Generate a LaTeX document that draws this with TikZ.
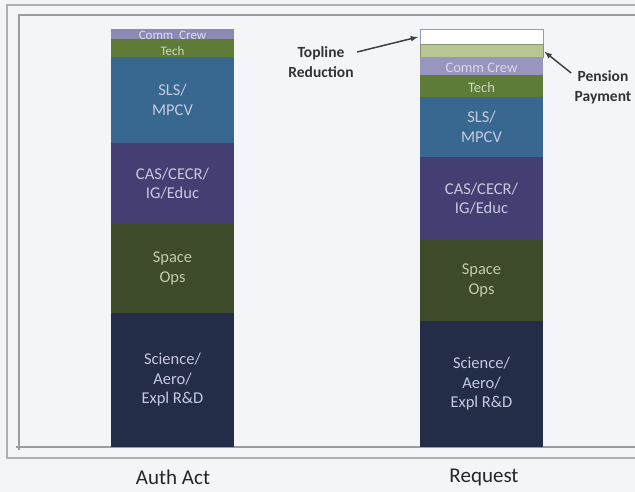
\documentclass[tikz,border=0pt]{standalone}
\usepackage{fontspec}
\setmainfont{Carlito}
\usepackage{xcolor}
\usepackage{tikz}

\definecolor{commcrew}{HTML}{8D89B7}
\definecolor{tech}{HTML}{5E7B37}
\definecolor{slsblue}{HTML}{386890}
\definecolor{caspurple}{HTML}{443F72}
\definecolor{spaceops}{HTML}{3E4B2B}
\definecolor{science}{HTML}{242D47}
\definecolor{pension}{HTML}{B7C693}
\definecolor{topline}{HTML}{8E9BC8}
\definecolor{lbltext}{HTML}{C6C9DF}
\definecolor{opstext}{HTML}{C4CAAE}
\definecolor{paper}{HTML}{F3F5F8}
\definecolor{framegray}{HTML}{9A9C9E}

\begin{document}
\begin{tikzpicture}[x=1pt, y=-1pt,
    seg/.style={rectangle, anchor=north west, minimum width=123pt, inner sep=0pt, outer sep=0pt},
    lbl/.style={text=lbltext, align=center, font=\fontsize{16.5}{19.5}\selectfont},
    small lbl/.style={lbl, text=lbltext!60!white, font=\fontsize{13}{14}\selectfont},
    mid lbl/.style={lbl, text=lbltext!70!white, font=\fontsize{14.5}{16}\selectfont},
    note/.style={text=black!80, align=center, font=\fontsize{15.5}{20}\selectfont\bfseries},
    axis lbl/.style={text=black!85, font=\fontsize{21}{24}\selectfont},
    pointer/.style={-latex, draw=black!75, line width=1.5pt, shorten >=2pt}]
    \useasboundingbox (0,0) rectangle (635,492);
    \fill[paper] (0,0) rectangle (635,492);
    \draw[framegray!80, line width=1.2pt] (7,5) rectangle (645,458);
    \draw[framegray, line width=1.2pt] (645,15) -- (19,15) -- (19,450);
    \draw[framegray, line width=1.2pt] (16,447) -- (645,447);

    % Auth Act
    \node[seg, fill=commcrew, minimum height=10pt] (a-comm) at (111,29) {};
    \node[seg, fill=tech, minimum height=18pt] (a-tech) at (111,39) {};
    \node[seg, fill=slsblue, minimum height=86pt] (a-sls) at (111,57) {};
    \node[seg, fill=caspurple, minimum height=81pt] (a-cas) at (111,143) {};
    \node[seg, fill=spaceops, minimum height=89pt] (a-ops) at (111,224) {};
    \node[seg, fill=science, minimum height=134pt] (a-sci) at (111,313) {};
    \node[small lbl] at ([yshift=-1pt]a-comm) {Comm\ \ Crew};
    \node[small lbl, text=tech!30!white] at ([yshift=-3pt]a-tech) {Tech};
    \node[lbl] at (a-sls) {SLS/\\MPCV};
    \node[lbl] at (a-cas) {CAS/CECR/\\IG/Educ};
    \node[lbl, text=opstext] at (a-ops) {Space\\Ops};
    \node[lbl] at (a-sci) {Science/\\Aero/\\Expl R\&D};

    % Request
    \node[seg, fill=white, draw=topline, line width=0.8pt, minimum height=15pt] (r-top) at (420,29) {};
    \node[seg, fill=pension, draw=pension!75!black, line width=0.6pt, minimum height=13pt] (r-pen) at (420,44) {};
    \node[seg, fill=commcrew!90!white, minimum height=18pt] (r-comm) at (420,57) {};
    \node[seg, fill=tech, minimum height=22pt] (r-tech) at (420,75) {};
    \node[seg, fill=slsblue, minimum height=60pt] (r-sls) at (420,97) {};
    \node[seg, fill=caspurple, minimum height=83pt] (r-cas) at (420,157) {};
    \node[seg, fill=spaceops, minimum height=81pt] (r-ops) at (420,240) {};
    \node[seg, fill=science, minimum height=126pt] (r-sci) at (420,321) {};
    \node[mid lbl] at ([yshift=-2pt]r-comm) {Comm Crew};
    \node[mid lbl, text=tech!30!white] at ([yshift=-2pt]r-tech) {Tech};
    \node[lbl] at (r-sls) {SLS/\\MPCV};
    \node[lbl] at (r-cas) {CAS/CECR/\\IG/Educ};
    \node[lbl, text=opstext] at (r-ops) {Space\\Ops};
    \node[lbl] at (r-sci) {Science/\\Aero/\\Expl R\&D};

    \node[note] (topline) at (321,62) {Topline\\Reduction};
    \node[note] (pension note) at (603,87) {Pension\\Payment};
    \draw[pointer] ([yshift=10pt]topline.east) -- (r-top.west);
    \draw[pointer] ([yshift=14pt]pension note.west) -- (r-pen.east);

    \node[axis lbl] (auth) at (173,477) {Auth Act};
    \node[axis lbl] (request) at (484,477) {Request};
\end{tikzpicture}
\end{document}
